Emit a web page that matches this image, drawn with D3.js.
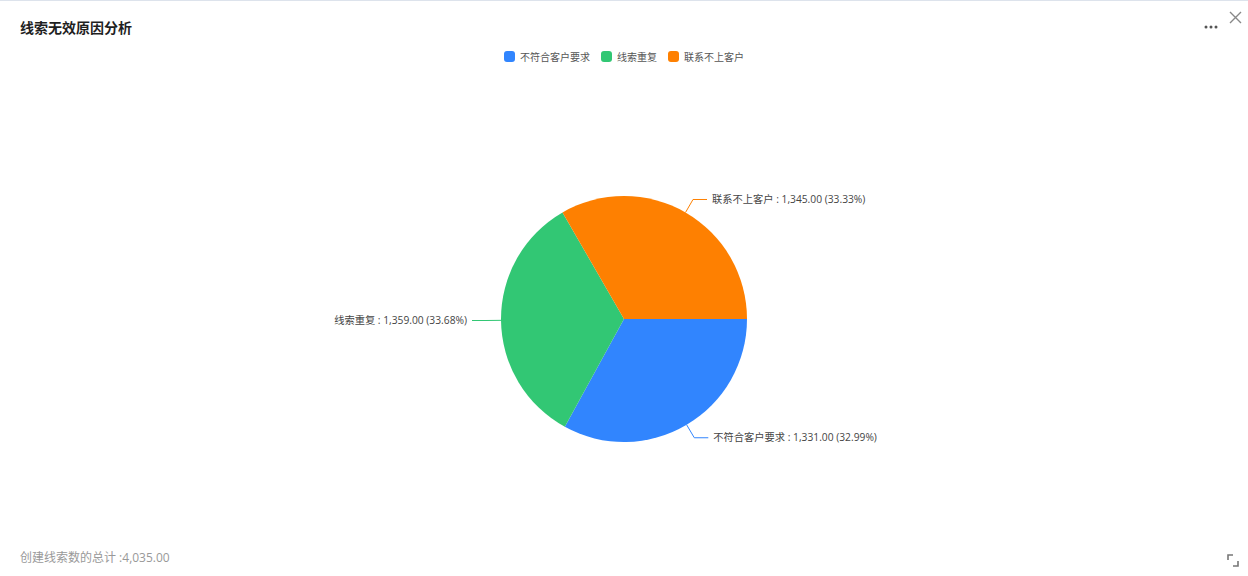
<!DOCTYPE html>
<html>
<head>
<meta charset="utf-8">
<script src="https://cdn.jsdelivr.net/npm/d3@7/dist/d3.min.js"></script>
<style>
  html, body { margin: 0; padding: 0; background: #fff; }
  svg { display: block; font-family: "Open Sans", "Noto Sans CJK SC", sans-serif; }
</style>
</head>
<body>
<svg id="chart" width="1248" height="576"></svg>
<script>
// Invalid-lead reasons and their counts
const categories = ["不符合客户要求", "线索重复", "联系不上客户"];
const values = [1331, 1359, 1345];
const colors = ["#3185FE", "#32C774", "#FE8001"];
const title = "线索无效原因分析";
const totalLabel = "创建线索数的总计";

const W = 1248, H = 576;
const svg = d3.select("#chart");

// card top border
svg.append("line").attr("x1", 0).attr("x2", W).attr("y1", 0.5).attr("y2", 0.5)
  .attr("stroke", "#dde3ec").attr("stroke-width", 1);

// title
svg.append("text").attr("x", 20).attr("y", 33)
  .attr("font-family", "Noto Sans CJK SC")
  .attr("font-size", 14).attr("font-weight", "bold").attr("fill", "#1f1f1f")
  .text(title);

// header icons: more (…) and close (×)
const more = svg.append("g").attr("fill", "#555");
[1206, 1211, 1216].forEach(x => more.append("circle").attr("cx", x).attr("cy", 27).attr("r", 1.5));
svg.append("path").attr("d", "M1230,12 L1241,23 M1241,12 L1230,23")
  .attr("stroke", "#888").attr("stroke-width", 1.4).attr("fill", "none");

// legend
const color = d3.scaleOrdinal().domain(categories).range(colors);
const legendX = [504, 601, 668];
const legend = svg.append("g");
categories.forEach((c, i) => {
  const g = legend.append("g").attr("transform", `translate(${legendX[i]},51)`);
  g.append("rect").attr("width", 11).attr("height", 11).attr("rx", 3).attr("fill", color(c));
  g.append("text").attr("x", 16).attr("y", 9.5).attr("font-size", 10).attr("fill", "#555").text(c);
});

// pie
const cx = 624, cy = 319, r = 123;
const total = d3.sum(values);
const data = categories.map((c, i) => ({ name: c, value: values[i] }));
const pie = d3.pie().value(d => d.value).sort(null)
  .startAngle(Math.PI / 2).endAngle(Math.PI / 2 + 2 * Math.PI);
const arcs = pie(data);
const arc = d3.arc().innerRadius(0).outerRadius(r);

const g = svg.append("g").attr("transform", `translate(${cx},${cy})`);
g.selectAll("path.slice").data(arcs).join("path")
  .attr("class", "slice")
  .attr("d", arc)
  .attr("fill", d => color(d.data.name));

// leader lines and labels
const fmt = d3.format(",.2f");
const pct = d3.format(".2%");
arcs.forEach(d => {
  const a = (d.startAngle + d.endAngle) / 2;
  const sx = Math.sin(a), sy = -Math.cos(a);
  const p0 = [sx * r, sy * r];
  const p1 = [sx * (r + 15), sy * (r + 15)];
  const dir = sx >= 0 ? 1 : -1;
  const p2 = [p1[0] + dir * 14, p1[1]];
  g.append("polyline")
    .attr("points", [p0, p1, p2].map(p => p.join(",")).join(" "))
    .attr("fill", "none").attr("stroke", color(d.data.name)).attr("stroke-width", 1);
  g.append("text")
    .attr("x", p2[0] + dir * 5).attr("y", p2[1])
    .attr("dy", "0.35em")
    .attr("text-anchor", dir > 0 ? "start" : "end")
    .attr("font-size", 10.25).attr("fill", "#444")
    .text(`${d.data.name} : ${fmt(d.data.value)} (${pct(d.data.value / total)})`);
});

// footer total
svg.append("text").attr("x", 20).attr("y", 562)
  .attr("font-size", 12).attr("fill", "#999")
  .text(`${totalLabel} :${fmt(total)}`);

// expand icon
svg.append("path").attr("d", "M1228,560 V555 H1233 M1238,561 V566 H1233")
  .attr("stroke", "#777").attr("stroke-width", 1.6).attr("fill", "none");
</script>
</body>
</html>
